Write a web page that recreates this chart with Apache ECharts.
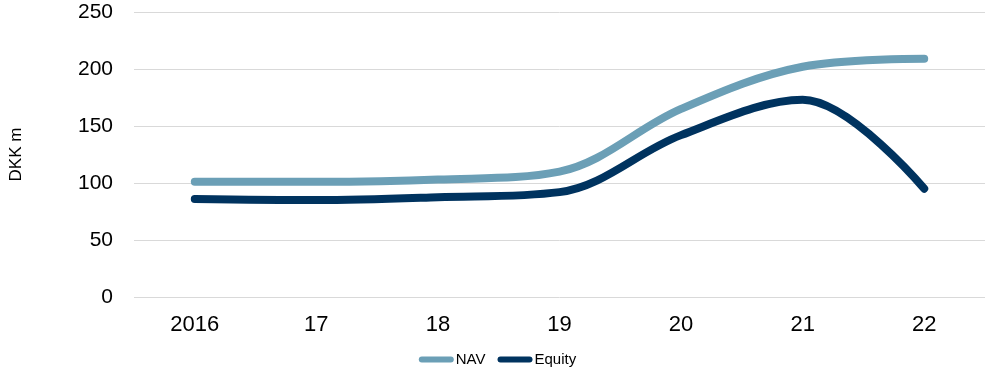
<!DOCTYPE html>
<html><head><meta charset="utf-8">
<script src="https://cdn.jsdelivr.net/npm/echarts@6/dist/echarts.min.js"></script>
<style>html,body{margin:0;padding:0;background:#fff}#c{width:995px;height:378px}</style>
</head><body><div id="c"></div>
<script>
var categories = ['2016','17','18','19','20','21','22'];
var navValues = [101, 101, 103, 110, 165, 202, 209];
var equityValues = [86, 85, 87.5, 92, 142, 173, 95];
var yTicks = [0, 50, 100, 150, 200, 250];

var chart = echarts.init(document.getElementById('c'), null, {renderer:'canvas'});
var pillIcon = 'path://M3,0 L32,0 A3,3 0 0 1 32,6 L3,6 A3,3 0 0 1 3,0 Z';
chart.setOption({
  animation: false,
  textStyle: {fontFamily: 'Liberation Sans, Arial, sans-serif'},
  grid: {left: 132, right: 10, top: 12, bottom: 81},
  legend: {
    bottom: 6, left: 'center', itemWidth: 35, itemHeight: 6, itemGap: 12,
    textStyle: {fontSize: 15, color: '#000', padding: [0,0,0,-3]},
    data: [{name:'NAV', icon: pillIcon}, {name:'Equity', icon: pillIcon}]
  },
  xAxis: {
    type: 'category', data: categories, boundaryGap: true,
    axisLine: {show: false}, axisTick: {show: false},
    axisLabel: {fontSize: 22, color: '#000', margin: 17}
  },
  yAxis: {
    type: 'value', min: yTicks[0], max: yTicks[yTicks.length-1], interval: 50,
    name: 'DKK m', nameLocation: 'middle', nameRotate: 90, nameGap: 109,
    nameTextStyle: {fontSize: 17, color: '#000'},
    axisLine: {show: false}, axisTick: {show: false},
    axisLabel: {fontSize: 21, color: '#000', margin: 21},
    splitLine: {lineStyle: {color: '#d9d9d9', width: 1}}
  },
  series: [
    {name: 'NAV', type: 'line', data: navValues, smooth: 0.35, symbol: 'none',
     lineStyle: {width: 8, color: '#6b9fb6', cap: 'round', join: 'round'}, itemStyle: {color: '#6b9fb6'}},
    {name: 'Equity', type: 'line', data: equityValues, smooth: 0.35, symbol: 'none',
     lineStyle: {width: 8, color: '#00335f', cap: 'round', join: 'round'}, itemStyle: {color: '#00335f'}}
  ]
});
</script></body></html>
